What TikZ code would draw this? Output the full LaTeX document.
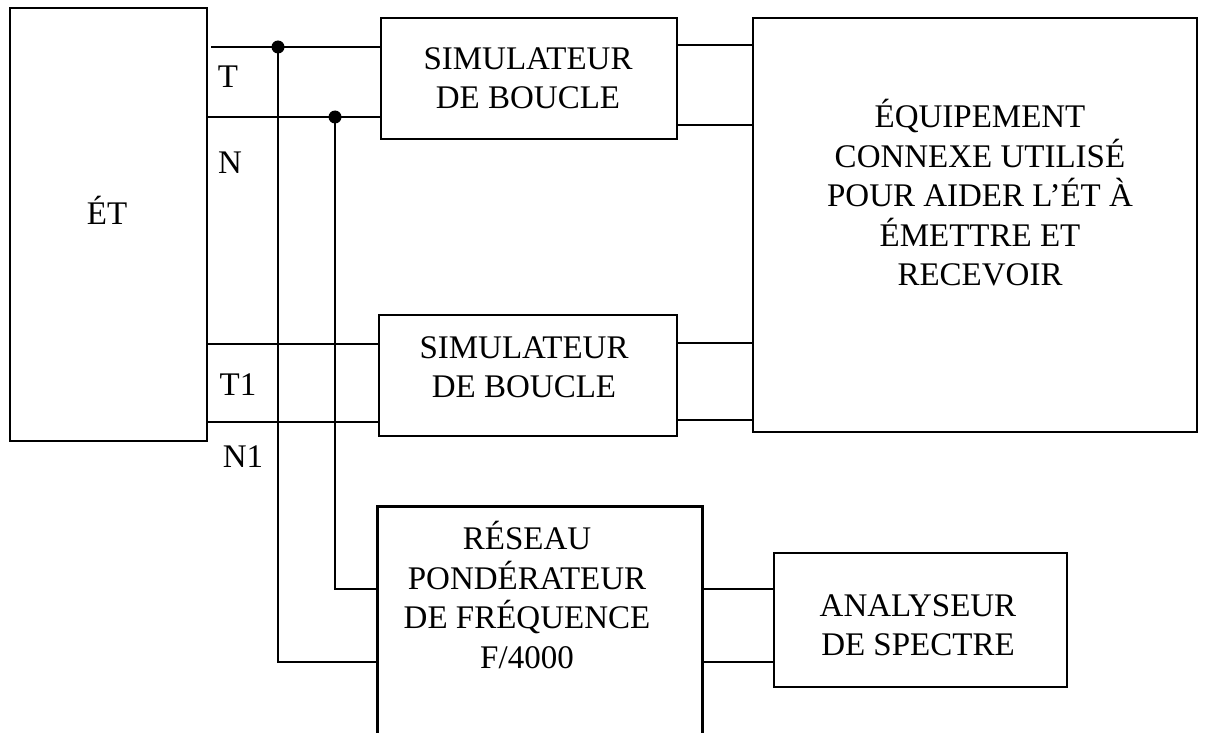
\documentclass[tikz,border=0pt]{standalone}
\usepackage{fontspec}
\setmainfont{Liberation Serif}
\begin{document}
\begin{tikzpicture}[x=0.5pt,y=-0.5pt,
  wire/.style={line width=1.25pt},
  boxline/.style={draw,line width=1.35pt,inner sep=0pt},
  frame/.style={line width=1.35pt},
  txt/.style={font=\fontsize{16.5}{19.75}\selectfont,align=center,inner sep=0pt},
  jdot/.style={circle,fill,inner sep=0pt,minimum size=6.5pt}]
\useasboundingbox (0,0) rectangle (1215,733);

% boxes
\node[boxline,minimum width=98.5pt,minimum height=216.5pt] (et) at (108.5,224.5) {};
\node[boxline,minimum width=148pt,minimum height=60.5pt] (b1) at (529,78.5) {};
\node[boxline,minimum width=149pt,minimum height=60.5pt] (b2) at (528,375.5) {};
\node[boxline,minimum width=222pt,minimum height=207pt] (big) at (975,225) {};
\node[boxline,minimum width=146.5pt,minimum height=67pt] (ana) at (920.5,620) {};
\node[inner sep=0pt,minimum width=162pt,minimum height=113pt] (res) at (540,620) {};
\draw[frame] (res.south west) -- (res.north west) -- (res.north east) -- (res.south east);

% texts
\node[txt] (tet) at (107,210) {ÉT};
\node[txt] (tb1) at (528,78) {SIMULATEUR\\DE BOUCLE};
\node[txt] (tb2) at (524,367) {SIMULATEUR\\DE BOUCLE};
\node[txt] (tbig) at (980,193) {ÉQUIPEMENT\\CONNEXE UTILISÉ\\POUR AIDER L’ÉT À\\ÉMETTRE ET\\RECEVOIR};
\node[txt] (tres) at (527,595) {RÉSEAU\\PONDÉRATEUR\\DE FRÉQUENCE\\F/4000};
\node[txt] (tana) at (918,625) {ANALYSEUR\\DE SPECTRE};
\node[txt] (lT) at (228,77) {T};
\node[txt] (lN) at (230,163) {N};
\node[txt] (lT1) at (238,385) {T1};
\node[txt] (lN1) at (243,457) {N1};

% junctions
\coordinate (tstart) at (211,47);
\coordinate (j1) at (278,47);
\coordinate (j2) at (335,117);
\coordinate (rl1) at (res.west |- 0,589);
\coordinate (rl2) at (res.west |- 0,662);
\coordinate (rr1) at (res.east |- 0,589);
\coordinate (rr2) at (res.east |- 0,662);

% wires
\draw[wire] (tstart) -- (j1) -- (j1 -| b1.west);
\draw[wire] (et.east |- j2) -- (j2) -- (j2 -| b1.west);
\draw[wire] (et.east |- 0,344) -- (b2.west |- 0,344);
\draw[wire] (et.east |- 0,422) -- (b2.west |- 0,422);
\draw[wire] (j1) |- (rl2);
\draw[wire] (j2) |- (rl1);
\draw[wire] (rr1) -- (ana.west |- rr1);
\draw[wire] (rr2) -- (ana.west |- rr2);
\draw[wire] (b1.east |- 0,45) -- (big.west |- 0,45);
\draw[wire] (b1.east |- 0,125) -- (big.west |- 0,125);
\draw[wire] (b2.east |- 0,343) -- (big.west |- 0,343);
\draw[wire] (b2.east |- 0,420) -- (big.west |- 0,420);

\node[jdot] (d1) at (j1) {};
\node[jdot] (d2) at (j2) {};
\end{tikzpicture}
\end{document}
